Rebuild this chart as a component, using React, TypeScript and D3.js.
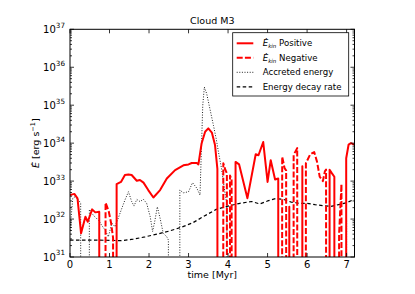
import React from 'react';
import * as d3 from 'd3';

// Cloud M3 — kinetic energy rate vs accretion and decay
const W = 415;
const H = 294;
const plot = { left: 70, right: 354.5, top: 29.3, bottom: 257 };

// E_kin positive (erg/s); 0 = no positive value (drops below axis)
const posTime = [0, 0.11, 0.19, 0.28, 0.39, 0.45, 0.56, 0.64, 0.74, 0.8, 1.15, 1.18, 1.29, 1.39, 1.48, 1.56, 1.69, 1.77, 1.86, 1.98, 2.11, 2.28, 2.45, 2.66, 2.87, 3.0, 3.08, 3.21, 3.25, 3.33, 3.42, 3.5, 3.59, 3.67, 3.73, 3.79, 4.15, 4.19, 4.28, 4.49, 4.7, 4.77, 4.89, 5.0, 5.08, 5.19, 5.27, 5.3, 5.51, 5.55, 5.59, 5.84, 5.88, 5.92, 6.53, 6.57, 6.63, 6.69, 6.72, 6.96, 6.99, 7.05, 7.11, 7.18, 7.2];
const posValue = [4.3e32, 4.6e32, 3.5e32, 4.2e31, 1.15e32, 8.5e31, 1.8e32, 1.5e32, 1.55e32, 0, 0, 8.3e32, 9.5e32, 1.45e33, 1.5e33, 1.45e33, 1.02e33, 1.07e33, 9.1e32, 5.8e32, 3.7e32, 5.8e32, 1.17e33, 1.95e33, 2.6e33, 2.75e33, 3.0e33, 3.0e33, 2.75e33, 9.8e33, 2.0e34, 2.45e34, 1.9e34, 8.9e33, 2.1e33, 0, 0, 3.2e33, 2.75e33, 3.55e32, 5.1e33, 4.8e33, 1.07e34, 9.5e32, 3.55e33, 1.1e33, 1.17e33, 0, 0, 2.1e32, 0, 0, 2.45e33, 0, 0, 2.0e33, 1.6e33, 1.3e33, 0, 0, 4.0e33, 9.1e33, 1.0e34, 9.3e33, 9.1e33];

// E_kin negative (magnitude, erg/s)
const negTime = [0.82, 0.9, 0.98, 1.04, 1.09, 1.14, 3.81, 3.88, 3.93, 3.97, 4.01, 4.05, 4.09, 4.13, 5.31, 5.37, 5.43, 5.47, 5.51, 5.62, 5.66, 5.75, 5.79, 5.93, 5.97, 6.08, 6.18, 6.25, 6.32, 6.4, 6.45, 6.48, 6.52, 6.78, 6.81, 6.87, 6.91];
const negValue = [0, 2.7e32, 1.6e32, 7.9e31, 3.2e31, 0, 0, 2.95e33, 2.0e33, 1.6e33, 0, 1.4e33, 1.1e33, 0, 0, 4.4e33, 2.2e33, 1.9e33, 0, 0, 4.9e33, 7.4e33, 0, 0, 2.95e33, 5.1e33, 5.8e33, 3.3e33, 1.3e33, 1.0e33, 1.8e33, 2.0e33, 0, 0, 4.0e31, 8.3e32, 0];

// Accreted energy
const accTime = [0, 0.07, 0.13, 0.22, 0.27, 0.3, 0.47, 0.49, 0.59, 0.72, 0.8, 0.89, 0.97, 1.06, 1.14, 1.22, 1.31, 1.39, 1.48, 1.56, 1.62, 1.69, 1.77, 1.86, 1.94, 2.03, 2.09, 2.15, 2.21, 2.28, 2.36, 2.45, 2.49, 2.53, 2.75, 2.78, 2.87, 3.0, 3.1, 3.21, 3.29, 3.36, 3.4, 3.46, 3.54, 3.63, 3.7, 3.76, 3.84, 3.92, 3.97, 4.01, 6.97, 7.0];
const accValue = [5.0e31, 3.55e32, 3.9e32, 3.16e32, 2.6e32, 0, 0, 1.8e32, 1.26e32, 9.3e31, 6.9e31, 5.1e31, 3.4e31, 7.8e31, 6.3e31, 1.05e32, 1.9e32, 3.16e32, 5.25e32, 2.9e32, 2.2e32, 3.3e32, 2.9e32, 3.3e32, 2.6e32, 1.15e32, 4.7e31, 9.3e31, 2.1e32, 1.05e32, 4.2e31, 3.4e31, 2.8e31, 0, 0, 5.8e32, 4.9e32, 5.25e32, 9.1e32, 6.5e32, 4.3e32, 1.0e35, 3.0e35, 2.0e35, 8.1e34, 2.95e34, 1.3e34, 5.6e33, 2.0e33, 5.0e32, 2.5e32, 0, 0, 9.3e31];

// Energy decay rate
const decayTime = [0, 0.5, 1.0, 1.3, 1.6, 1.9, 2.2, 2.5, 2.8, 3.1, 3.4, 3.7, 4.0, 4.3, 4.6, 4.8, 5.0, 5.2, 5.4, 5.6, 5.8, 6.0, 6.2, 6.4, 6.6, 6.8, 7.0, 7.2];
const decayValue = [2.8e31, 2.8e31, 2.75e31, 2.7e31, 2.95e31, 3.4e31, 4.0e31, 4.8e31, 6.0e31, 7.9e31, 1.2e32, 1.8e32, 2.2e32, 2.6e32, 2.9e32, 2.5e32, 3.0e32, 3.45e32, 3.3e32, 2.8e32, 2.6e32, 2.6e32, 2.4e32, 2.25e32, 2.15e32, 2.4e32, 2.7e32, 3.3e32];

const xTicks = [0, 1, 2, 3, 4, 5, 6, 7];
const yDecades = [31, 32, 33, 34, 35, 36, 37];

const CLIP_FLOOR = 1e-100; // matplotlib-like clipping of nonpositive values
const FONT = 'DejaVu Sans, sans-serif';

export default function App() {
  const x = d3.scaleLinear().domain([0, 7.2]).range([plot.left, plot.right]);
  const y = d3.scaleLog().domain([1e31, 1e37]).range([plot.bottom, plot.top]);

  const line = d3
    .line<[number, number]>()
    .x((d) => x(d[0]))
    .y((d) => y(d[1] > 0 ? d[1] : CLIP_FLOOR));

  const zip = (t: number[], v: number[]) => t.map((ti, i) => [ti, v[i]] as [number, number]);

  const series = [
    { key: 'acc', d: line(zip(accTime, accValue)), stroke: '#222', width: 1, dash: '1,1.6' },
    { key: 'decay', d: line(zip(decayTime, decayValue)), stroke: '#000', width: 1.2, dash: '3.5,2.5' },
    { key: 'neg', d: line(zip(negTime, negValue)), stroke: '#ff0000', width: 2, dash: '6,2.2' },
    { key: 'pos', d: line(zip(posTime, posValue)), stroke: '#ff0000', width: 2, dash: undefined },
  ];

  const minor = y.ticks().filter((v) => Math.abs(Math.log10(v) - Math.round(Math.log10(v))) > 1e-6);

  const legend = [
    { label: 'Positive', kin: true, stroke: '#ff0000', width: 2, dash: undefined },
    { label: 'Negative', kin: true, stroke: '#ff0000', width: 2, dash: '6,2.2' },
    { label: 'Accreted energy', kin: false, stroke: '#222', width: 1, dash: '1,1.6' },
    { label: 'Energy decay rate', kin: false, stroke: '#000', width: 1.2, dash: '3.5,2.5' },
  ];

  return (
    <svg
      width={W}
      height={H}
      style={{ position: 'absolute', left: 0, top: 0, background: '#fff' }}
      fontFamily={FONT}
    >
      <defs>
        <clipPath id="plotClip">
          <rect x={plot.left} y={plot.top} width={plot.right - plot.left} height={plot.bottom - plot.top} />
        </clipPath>
      </defs>

      <g clipPath="url(#plotClip)" fill="none" strokeLinejoin="round">
        {series.map((s) => (
          <path key={s.key} d={s.d || ''} stroke={s.stroke} strokeWidth={s.width} strokeDasharray={s.dash} />
        ))}
      </g>

      {/* ticks */}
      <g stroke="#000" strokeWidth={0.8}>
        {xTicks.map((t) => (
          <g key={'xt' + t}>
            <line x1={x(t)} x2={x(t)} y1={plot.bottom} y2={plot.bottom - 4} />
            <line x1={x(t)} x2={x(t)} y1={plot.top} y2={plot.top + 4} />
          </g>
        ))}
        {yDecades.map((p) => (
          <g key={'yt' + p}>
            <line x1={plot.left} x2={plot.left + 4} y1={y(10 ** p)} y2={y(10 ** p)} />
            <line x1={plot.right} x2={plot.right - 4} y1={y(10 ** p)} y2={y(10 ** p)} />
          </g>
        ))}
        {minor.map((v, i) => (
          <g key={'ym' + i}>
            <line x1={plot.left} x2={plot.left + 2} y1={y(v)} y2={y(v)} />
            <line x1={plot.right} x2={plot.right - 2} y1={y(v)} y2={y(v)} />
          </g>
        ))}
      </g>

      <rect
        x={plot.left}
        y={plot.top}
        width={plot.right - plot.left}
        height={plot.bottom - plot.top}
        fill="none"
        stroke="#000"
        strokeWidth={1}
      />

      {/* tick labels */}
      <g fontSize={10} fill="#000">
        {xTicks.map((t) => (
          <text key={'xl' + t} x={x(t)} y={plot.bottom + 11} textAnchor="middle">
            {t}
          </text>
        ))}
        {yDecades.map((p) => (
          <text key={'yl' + p} x={plot.left - 5} y={y(10 ** p) + 3.6} textAnchor="end">
            <tspan>10</tspan>
            <tspan dy={-5.2} fontSize={7.2}>{p}</tspan>
          </text>
        ))}
      </g>

      {/* title and axis labels */}
      <text x={(plot.left + plot.right) / 2} y={24} textAnchor="middle" fontSize={9.5}>
        Cloud M3
      </text>
      <text x={(plot.left + plot.right) / 2} y={277.5} textAnchor="middle" fontSize={9.5}>
        time [Myr]
      </text>
      <text
        transform={`translate(38.5, ${(plot.top + plot.bottom) / 2}) rotate(-90)`}
        textAnchor="middle"
        fontSize={9.5}
      >
        <tspan fontStyle="italic">Ė</tspan>
        <tspan> [erg s</tspan>
        <tspan dy={-4} fontSize={6.5}>−1</tspan>
        <tspan dy={4}>]</tspan>
      </text>

      {/* legend */}
      <g>
        <rect x={232.7} y={32.7} width={116} height={63.3} fill="#fff" stroke="#000" strokeWidth={0.8} />
        {legend.map((l, i) => {
          const ly = 43.3 + i * 14.5;
          return (
            <g key={'lg' + i}>
              <line
                x1={236.7}
                x2={253.3}
                y1={ly}
                y2={ly}
                stroke={l.stroke}
                strokeWidth={l.width}
                strokeDasharray={l.dash}
              />
              <text x={262.7} y={ly + 3} fontSize={8.6}>
                {l.kin ? (
                  <>
                    <tspan fontStyle="italic">Ė</tspan>
                    <tspan fontStyle="italic" fontSize={5.5} dy={2}>kin</tspan>
                    <tspan dy={-2}> {l.label}</tspan>
                  </>
                ) : (
                  l.label
                )}
              </text>
            </g>
          );
        })}
      </g>
    </svg>
  );
}
